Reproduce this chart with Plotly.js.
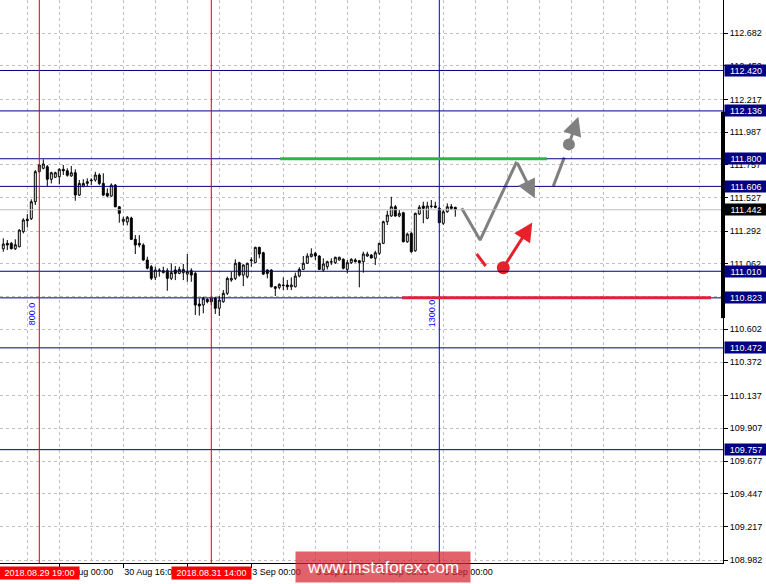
<!DOCTYPE html>
<html>
<head>
<meta charset="utf-8">
<script src="https://cdn.plot.ly/plotly-3.0.1.min.js"></script>
<style>
  html, body { margin: 0; padding: 0; background: #ffffff; overflow: hidden; }
  #chart { width: 766px; height: 584px; }
</style>
</head>
<body>
<div id="chart"></div>
<script>
// USDJPY, H1 candles from 29 Aug 10:00 to 5 Sep 03:00 (bar index on x)
const opens = [
  111.168,111.206,111.206,111.168,111.182,111.288,111.375,111.379,111.498,111.709,
  111.733,111.744,111.656,111.670,111.674,111.726,111.716,111.679,111.702,111.545,
  111.608,111.627,111.651,111.651,111.686,111.627,111.557,111.538,111.615,111.463,
  111.361,111.356,111.384,111.234,111.206,111.194,111.089,111.042,110.967,111.019,
  111.000,111.014,110.960,111.019,110.995,111.000,110.990,111.014,110.995,110.780,
  110.773,110.813,110.820,110.820,110.750,110.796,110.855,110.948,110.960,111.070,
  110.983,110.972,111.084,111.070,111.178,111.140,111.019,111.019,110.901,110.897,
  110.913,110.913,110.901,110.901,110.976,111.023,111.066,111.112,111.136,111.117,
  111.019,111.042,111.077,111.070,111.089,111.094,111.023,111.070,111.089,111.084,
  111.077,111.117,111.124,111.101,111.136,111.206,111.358,111.398,111.463,111.398,
  111.421,111.217,111.276,111.154,111.412,111.468,111.382,111.468,111.468,111.452,
  111.347,111.428,111.463,111.459
];
const highs = [
  111.241,111.229,111.215,111.234,111.304,111.382,111.412,111.515,111.721,111.763,
  111.796,111.756,111.709,111.709,111.733,111.756,111.733,111.749,111.726,111.651,
  111.656,111.663,111.663,111.709,111.698,111.698,111.592,111.627,111.623,111.468,
  111.393,111.398,111.393,111.264,111.264,111.206,111.112,111.054,111.042,111.031,
  111.042,111.031,111.066,111.047,111.042,111.061,111.131,111.031,111.007,110.820,
  110.831,110.820,110.831,110.831,110.836,110.878,110.972,111.007,111.094,111.077,
  111.059,111.070,111.108,111.182,111.182,111.147,111.023,111.023,110.906,110.925,
  110.967,110.948,110.967,111.000,111.038,111.117,111.136,111.171,111.147,111.122,
  111.101,111.084,111.101,111.112,111.112,111.101,111.089,111.101,111.101,111.089,
  111.147,111.147,111.131,111.154,111.210,111.365,111.435,111.533,111.475,111.440,
  111.428,111.281,111.288,111.421,111.475,111.498,111.498,111.510,111.498,111.463,
  111.440,111.487,111.482,111.463
];
const lows = [
  111.147,111.159,111.164,111.159,111.178,111.276,111.318,111.370,111.475,111.705,
  111.726,111.608,111.627,111.665,111.620,111.686,111.674,111.674,111.505,111.538,
  111.599,111.608,111.615,111.639,111.615,111.538,111.529,111.533,111.459,111.351,
  111.332,111.332,111.229,111.131,111.178,111.084,111.023,110.948,110.948,110.972,
  110.995,110.873,110.948,110.948,110.990,110.948,110.936,110.936,110.703,110.698,
  110.715,110.785,110.773,110.710,110.696,110.789,110.843,110.936,110.948,110.972,
  110.906,110.960,111.042,111.066,111.101,110.983,110.960,110.897,110.836,110.883,
  110.878,110.878,110.878,110.897,110.967,111.019,111.061,111.108,111.089,111.019,
  111.007,111.023,111.054,111.061,111.084,111.023,110.995,111.061,111.070,110.897,
  111.000,111.112,111.101,111.054,111.124,111.201,111.335,111.393,111.393,111.389,
  111.213,111.210,111.140,111.147,111.405,111.347,111.375,111.452,111.452,111.347,
  111.335,111.421,111.440,111.393
];
const closes = [
  111.201,111.194,111.168,111.196,111.299,111.370,111.365,111.498,111.709,111.756,
  111.763,111.656,111.702,111.702,111.726,111.716,111.684,111.702,111.545,111.627,
  111.627,111.639,111.647,111.686,111.627,111.545,111.538,111.615,111.463,111.417,
  111.375,111.389,111.234,111.194,111.194,111.089,111.031,110.960,111.019,111.015,
  111.014,110.960,111.000,110.995,111.023,111.023,111.007,110.983,110.773,110.766,
  110.820,110.796,110.796,110.750,110.808,110.855,110.960,110.960,111.066,110.983,
  111.054,111.066,111.089,111.178,111.131,110.990,110.995,110.901,110.890,110.918,
  110.910,110.901,110.913,110.976,111.023,111.066,111.117,111.131,111.117,111.023,
  111.061,111.077,111.075,111.108,111.108,111.031,111.070,111.094,111.078,111.070,
  111.131,111.131,111.103,111.140,111.206,111.358,111.405,111.463,111.398,111.417,
  111.217,111.271,111.147,111.417,111.459,111.452,111.468,111.465,111.459,111.351,
  111.428,111.463,111.452,111.442
];

// time axis labels (bar index -> label)
const timeTickBars   = [14, 30, 46, 62, 78, 94, 110];
const timeTickLabels = ['30 Aug 00:00', '30 Aug 16:00', '31 Aug 08:00', '3 Sep 00:00',
                        '3 Sep 16:00', '4 Sep 08:00', '5 Sep 00:00'];

// price scale ticks
const priceTicks = [112.682, 112.452, 112.217, 111.987, 111.757, 111.527, 111.292, 111.062,
                    110.832, 110.602, 110.372, 110.137, 109.907, 109.677, 109.447, 109.217, 108.982];

// horizontal levels, bid price
const levelPrices = [112.420, 112.136, 111.800, 111.606, 111.010, 110.823, 110.472, 109.757];
const bidPrice = 111.442;

// vertical markers
const dateMarkerBars   = [9, 52];
const dateMarkerLabels = ['2018.08.29 19:00', '2018.08.31 14:00'];
const cycleMarkerBars  = [9, 109];
const cycleMarkerTexts = ['800.0', '1300.0'];
const cycleLabelPrice  = 110.713;

// forecast drawing: resistance / support segments
const resistance = {bars: [69.2, 135.9], price: 111.800};
const support    = {bars: [99.7, 176.9], price: 110.823};

// forecast drawing: main scenario (grey) and alternative (red)
const grayPathBars    = [114.6, 119.2, 128.35];
const grayPathPrices  = [111.452, 111.229, 111.779];
const grayArrowTip    = [132.9, 111.522];
const grayBreakBars   = [137.5, 140.25];
const grayBreakPrices = [111.608, 111.810];
const grayDot         = [141.4, 111.901];
const grayDotArrowTip = [143.75, 112.095];
const redDashBars     = [118.35, 120.6];
const redDashPrices   = [111.131, 111.047];
const redDot          = [125.0, 111.035];
const redArrowTip     = [132.25, 111.353];

const FONT = '"Liberation Sans", Arial, sans-serif';
const NAVY = '#000080';
const GREY = '#808080';
const RED  = '#e8202a';

const barIndex = opens.map((_, i) => i);

const traces = [
  {
    type: 'candlestick',
    x: barIndex, open: opens, high: highs, low: lows, close: closes,
    increasing: {line: {color: '#000000', width: 1}, fillcolor: '#ffffff'},
    decreasing: {line: {color: '#000000', width: 1}, fillcolor: '#000000'},
    whiskerwidth: 0,
    hoverinfo: 'skip'
  },
  {
    type: 'scatter', mode: 'lines',
    x: grayPathBars, y: grayPathPrices,
    line: {color: GREY, width: 3}, hoverinfo: 'skip'
  },
  {
    type: 'scatter', mode: 'lines',
    x: grayBreakBars, y: grayBreakPrices,
    line: {color: GREY, width: 3}, hoverinfo: 'skip'
  },
  {
    type: 'scatter', mode: 'markers',
    x: [grayDot[0]], y: [grayDot[1]],
    marker: {color: GREY, size: 12}, hoverinfo: 'skip'
  },
  {
    type: 'scatter', mode: 'lines',
    x: redDashBars, y: redDashPrices,
    line: {color: RED, width: 3}, hoverinfo: 'skip'
  },
  {
    type: 'scatter', mode: 'markers',
    x: [redDot[0]], y: [redDot[1]],
    marker: {color: RED, size: 13}, hoverinfo: 'skip'
  }
];

const shapes = [];
levelPrices.forEach(p => shapes.push({
  type: 'line', xref: 'paper', x0: 0, x1: 1, yref: 'y', y0: p, y1: p,
  line: {color: NAVY, width: 1}
}));
shapes.push({
  type: 'line', xref: 'paper', x0: 0, x1: 1, yref: 'y', y0: bidPrice, y1: bidPrice,
  line: {color: '#c0c0c0', width: 1}
});
dateMarkerBars.forEach(b => shapes.push({
  type: 'line', xref: 'x', x0: b, x1: b, yref: 'paper', y0: 0, y1: 1,
  line: {color: '#e00000', width: 1}
}));
shapes.push({
  type: 'line', xref: 'x', x0: cycleMarkerBars[1], x1: cycleMarkerBars[1], yref: 'paper', y0: 0, y1: 1,
  line: {color: '#0000dd', width: 1}
});
shapes.push({
  type: 'line', xref: 'x', x0: resistance.bars[0], x1: resistance.bars[1],
  yref: 'y', y0: resistance.price, y1: resistance.price,
  line: {color: '#33b24a', width: 3}
});
shapes.push({
  type: 'line', xref: 'x', x0: support.bars[0], x1: support.bars[1],
  yref: 'y', y0: support.price, y1: support.price,
  line: {color: '#e0203c', width: 3}
});
// thick marker on the price scale
shapes.push({
  type: 'line', xref: 'paper', x0: 1, x1: 1, yref: 'y', y0: 110.681, y1: 112.130,
  line: {color: '#000000', width: 4}
});

const annotations = [];
levelPrices.forEach(p => annotations.push({
  xref: 'paper', x: 1, xanchor: 'left', xshift: 1,
  yref: 'y', y: p, yanchor: 'middle',
  text: p.toFixed(3), showarrow: false,
  bgcolor: NAVY, font: {family: FONT, size: 9, color: '#ffffff'},
  width: 42, height: 11, borderpad: 0, align: 'center'
}));
annotations.push({
  xref: 'paper', x: 1, xanchor: 'left', xshift: 1,
  yref: 'y', y: bidPrice, yanchor: 'middle',
  text: bidPrice.toFixed(3), showarrow: false,
  bgcolor: '#000000', font: {family: FONT, size: 9, color: '#ffffff'},
  width: 42, height: 11, borderpad: 0, align: 'center'
});
dateMarkerBars.forEach((b, k) => annotations.push({
  xref: 'x', x: b, xanchor: 'center',
  yref: 'paper', y: 0, yanchor: 'top', yshift: -3,
  text: dateMarkerLabels[k], showarrow: false,
  bgcolor: '#ff0000', font: {family: FONT, size: 9, color: '#ffffff'},
  width: 77, height: 10, borderpad: 1
}));
cycleMarkerBars.forEach((b, k) => annotations.push({
  xref: 'x', x: b, xanchor: 'center', xshift: -7.6,
  yref: 'y', y: cycleLabelPrice, yanchor: 'middle',
  text: cycleMarkerTexts[k], textangle: -90, showarrow: false,
  font: {family: FONT, size: 9, color: '#0000ff'}
}));
// arrows of the forecast drawing
const arrowFrom = [
  [grayPathBars[2], grayPathPrices[2], grayArrowTip, GREY],
  [grayDot[0], grayDot[1], grayDotArrowTip, GREY],
  [redDot[0], redDot[1], redArrowTip, RED]
];
arrowFrom.forEach(a => annotations.push({
  xref: 'x', yref: 'y', x: a[2][0], y: a[2][1],
  axref: 'x', ayref: 'y', ax: a[0], ay: a[1],
  text: '', showarrow: true,
  arrowhead: 2, arrowsize: 1.25, arrowwidth: 3, arrowcolor: a[3]
}));
// watermark
annotations.push({
  xref: 'paper', x: 0.5297, xanchor: 'center',
  yref: 'paper', y: -0.0071, yanchor: 'middle',
  text: 'www.instaforex.com', showarrow: false,
  bgcolor: 'rgba(214,38,48,0.72)', font: {family: FONT, size: 17, color: '#ffffff'},
  width: 174, height: 30, borderpad: 0
});

const layout = {
  width: 766, height: 584,
  margin: {l: 0, r: 43, t: 0, b: 21, pad: 0},
  paper_bgcolor: '#ffffff', plot_bgcolor: '#ffffff',
  showlegend: false, hovermode: false, dragmode: false,
  boxgap: 0.3,
  font: {family: FONT, size: 9, color: '#000000'},
  xaxis: {
    range: [-0.825, 179.925], fixedrange: true,
    rangeslider: {visible: false},
    tickmode: 'array', tickvals: timeTickBars, ticktext: timeTickLabels,
    ticks: 'outside', ticklen: 4, tickwidth: 1, tickcolor: '#000000',
    ticklabelposition: 'outside right',
    tickfont: {family: FONT, size: 9, color: '#000000'},
    showline: true, linecolor: '#000000', linewidth: 1,
    showgrid: true, gridcolor: '#c0c0c0', gridwidth: 1, griddash: '3px,3px',
    minor: {tickmode: 'linear', tick0: 6, dtick: 8, showgrid: true,
            gridcolor: '#c0c0c0', gridwidth: 1, griddash: '3px,3px', ticks: ''},
    zeroline: false
  },
  yaxis: {
    side: 'right', range: [108.961, 112.915], fixedrange: true,
    tickmode: 'array', tickvals: priceTicks, tickformat: '.3f',
    ticks: 'outside', ticklen: 4, tickwidth: 1, tickcolor: '#000000',
    tickfont: {family: FONT, size: 9, color: '#000000'},
    showline: true, linecolor: '#000000', linewidth: 1,
    showgrid: true, gridcolor: '#c0c0c0', gridwidth: 1, griddash: '3px,3px',
    zeroline: false
  },
  shapes: shapes,
  annotations: annotations
};

Plotly.newPlot('chart', traces, layout, {displayModeBar: false, staticPlot: true});
</script>
</body>
</html>
